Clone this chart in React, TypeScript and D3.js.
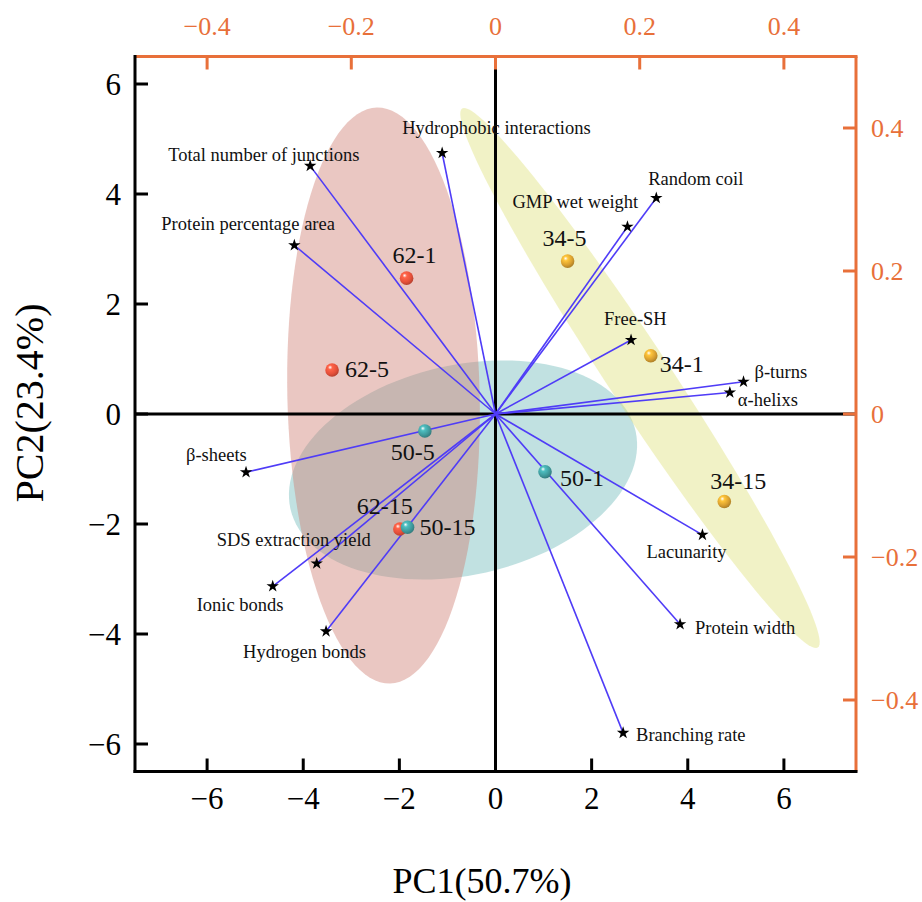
import React from "react";
import * as d3 from "d3";

// PCA biplot: scores (spheres) on bottom/left axes, loadings (stars) on top/right axes

const W = 922;
const H = 902;
const plot = { left: 135, right: 856, top: 56.5, bottom: 771.5 };

const scoreNames = ["62-1", "62-5", "62-15", "50-1", "50-5", "50-15", "34-1", "34-5", "34-15"];
const scoreGroups = ["62", "62", "62", "50", "50", "50", "34", "34", "34"];
const scorePC1 = [-1.85, -3.4, -1.99, 1.03, -1.47, -1.83, 3.23, 1.5, 4.76];
const scorePC2 = [2.47, 0.8, -2.09, -1.05, -0.31, -2.06, 1.06, 2.78, -1.59];

const loadingNames = [
  "Hydrophobic interactions",
  "Total number of junctions",
  "Protein percentage area",
  "Random coil",
  "GMP wet weight",
  "Free-SH",
  "β-turns",
  "α-helixs",
  "β-sheets",
  "Lacunarity",
  "SDS extraction yield",
  "Ionic bonds",
  "Hydrogen bonds",
  "Protein width",
  "Branching rate",
];
const loadingPC1 = [-0.074, -0.257, -0.279, 0.223, 0.183, 0.188, 0.344, 0.325, -0.346, 0.287, -0.248, -0.309, -0.235, 0.256, 0.177];
const loadingPC2 = [0.365, 0.347, 0.236, 0.302, 0.262, 0.1035, 0.045, 0.03, -0.0815, -0.169, -0.209, -0.241, -0.304, -0.294, -0.446];

// confidence ellipses: centre and two conjugate semi-axes, in PC units
const ellipseGroups = ["50", "34", "62"];
const ellipseCx = [-0.676, 3.006, -2.33];
const ellipseCy = [-1.018, 0.655, 0.336];
const ellipseA = [[3.59, 0.707], [3.7, -4.9], [0.135, -5.236]];
const ellipseB = [[0.48, -1.862], [0.539, 0.31], [2.0, 0.04]];

const xTicks = [-6, -4, -2, 0, 2, 4, 6];
const yTicks = [-6, -4, -2, 0, 2, 4, 6];
const topTicks = [-0.4, -0.2, 0, 0.2, 0.4];
const rightTicks = [-0.4, -0.2, 0, 0.2, 0.4];

const groupColor: Record<string, string> = { "62": "#e5503a", "50": "#3f9a9c", "34": "#d9a030" };
const ellipseFill: Record<string, string> = { "62": "#ce7d71", "50": "#6fb9b9", "34": "#dfe27a" };

// label placement (px offsets from the mark)
const scoreLabelOffset: Record<string, [number, number]> = {
  "62-1": [-14, -15], "62-5": [13, 7], "62-15": [-43, -15],
  "50-1": [15, 14], "50-5": [-34, 29], "50-15": [12, 8],
  "34-1": [9, 16], "34-5": [-25, -15], "34-15": [-14, -12],
};
const loadingLabelOffset: Record<string, [number, number]> = {
  "Hydrophobic interactions": [-40, -19],
  "Total number of junctions": [-142, -5],
  "Protein percentage area": [-133, -15],
  "Random coil": [-8, -13],
  "GMP wet weight": [-115, -19],
  "Free-SH": [-27, -15],
  "β-turns": [11, -4],
  "α-helixs": [8, 13],
  "β-sheets": [-60, -11],
  "Lacunarity": [-56, 23],
  "SDS extraction yield": [-100, -17],
  "Ionic bonds": [-76, 25],
  "Hydrogen bonds": [-83, 27],
  "Protein width": [15, 10],
  "Branching rate": [13, 8],
};

const ORANGE = "#e8703a";
const BLUE = "#4f3cf7";
const FONT = "'Liberation Serif', 'Times New Roman', serif";

export default function App() {
  const x = d3.scaleLinear().domain([-7.5, 7.5]).range([plot.left, plot.right]);
  const y = d3.scaleLinear().domain([-6.5, 6.5]).range([plot.bottom, plot.top]);
  const xTop = d3.scaleLinear().domain([-0.5, 0.5]).range([plot.left, plot.right]);
  const yRight = d3.scaleLinear().domain([-0.5, 0.5]).range([plot.bottom, plot.top]);
  const fmt = d3.format("~g");
  const star = d3.symbol().type(d3.symbolStar).size(48)()!;

  const ellipsePath = (i: number) => {
    const pts: [number, number][] = d3.range(120).map((k) => {
      const t = (k / 120) * Math.PI * 2;
      const px = ellipseCx[i] + Math.cos(t) * ellipseA[i][0] + Math.sin(t) * ellipseB[i][0];
      const py = ellipseCy[i] + Math.cos(t) * ellipseA[i][1] + Math.sin(t) * ellipseB[i][1];
      return [x(px), y(py)];
    });
    return d3.line().curve(d3.curveLinearClosed)(pts)!;
  };

  const tickLen = 13;

  return (
    <svg width={W} height={H} style={{ position: "absolute", left: 0, top: 0, background: "#fff" }} fontFamily={FONT}>
      <defs>
        {Object.keys(groupColor).map((g) => (
          <radialGradient key={g} id={`sph-${g}`} cx="40%" cy="35%" r="65%" fx="35%" fy="30%">
            <stop offset="0%" stopColor="#ffffff" />
            <stop offset="25%" stopColor={d3.color(groupColor[g])!.brighter(0.6).formatHex()} />
            <stop offset="70%" stopColor={groupColor[g]} />
            <stop offset="100%" stopColor={d3.color(groupColor[g])!.darker(0.6).formatHex()} />
          </radialGradient>
        ))}
        <clipPath id="plotclip">
          <rect x={plot.left} y={plot.top} width={plot.right - plot.left} height={plot.bottom - plot.top} />
        </clipPath>
      </defs>

      <g clipPath="url(#plotclip)">
        {ellipseGroups.map((g, i) => (
          <path key={g} d={ellipsePath(i)} fill={ellipseFill[g]} fillOpacity={0.43} />
        ))}
      </g>

      {/* zero lines */}
      <line x1={x(0)} x2={x(0)} y1={plot.top} y2={plot.bottom} stroke="#000" strokeWidth={3} />
      <line x1={plot.left} x2={plot.right} y1={y(0)} y2={y(0)} stroke="#000" strokeWidth={3} />

      {/* loading vectors */}
      {loadingNames.map((n, i) => (
        <line key={n} x1={xTop(0)} y1={yRight(0)} x2={xTop(loadingPC1[i])} y2={yRight(loadingPC2[i])} stroke={BLUE} strokeWidth={1.6} />
      ))}
      {loadingNames.map((n, i) => {
        const cx = xTop(loadingPC1[i]);
        const cy = yRight(loadingPC2[i]);
        const [dx, dy] = loadingLabelOffset[n];
        return (
          <g key={n}>
            <path d={star} transform={`translate(${cx},${cy})`} fill="#000" />
            <text x={cx + dx} y={cy + dy} fontSize={18.5} fill="#111">{n}</text>
          </g>
        );
      })}

      {/* scores */}
      {scoreNames.map((n, i) => {
        const cx = x(scorePC1[i]);
        const cy = y(scorePC2[i]);
        const [dx, dy] = scoreLabelOffset[n];
        return (
          <g key={n}>
            <circle cx={cx} cy={cy} r={6.8} fill={`url(#sph-${scoreGroups[i]})`} />
            <text x={cx + dx} y={cy + dy} fontSize={24} fill="#111">{n}</text>
          </g>
        );
      })}

      {/* frame: bottom/left black, top/right orange */}
      <line x1={plot.left} x2={plot.right + 1.5} y1={plot.top} y2={plot.top} stroke={ORANGE} strokeWidth={3} />
      <line x1={plot.right} x2={plot.right} y1={plot.top} y2={plot.bottom} stroke={ORANGE} strokeWidth={3} />
      <line x1={plot.left - 1.5} x2={plot.right + 1.5} y1={plot.bottom} y2={plot.bottom} stroke="#000" strokeWidth={3} />
      <line x1={plot.left} x2={plot.left} y1={plot.top - 1.5} y2={plot.bottom + 1.5} stroke="#000" strokeWidth={3} />

      {/* bottom axis */}
      {xTicks.map((t) => (
        <g key={`b${t}`}>
          <line x1={x(t)} x2={x(t)} y1={plot.bottom} y2={plot.bottom - tickLen} stroke="#000" strokeWidth={3} />
          <text x={x(t)} y={809} fontSize={31} textAnchor="middle" fill="#000">{fmt(t)}</text>
        </g>
      ))}
      {/* left axis */}
      {yTicks.map((t) => (
        <g key={`l${t}`}>
          <line x1={plot.left} x2={plot.left + tickLen} y1={y(t)} y2={y(t)} stroke="#000" strokeWidth={3} />
          <text x={plot.left - 14} y={y(t)} dy="0.34em" fontSize={31} textAnchor="end" fill="#000">{fmt(t)}</text>
        </g>
      ))}
      {/* top axis */}
      {topTicks.map((t) => (
        <g key={`t${t}`}>
          <line x1={xTop(t)} x2={xTop(t)} y1={plot.top} y2={plot.top + tickLen} stroke={ORANGE} strokeWidth={3} />
          <text x={xTop(t)} y={35} fontSize={26} textAnchor="middle" fill={ORANGE}>{fmt(t)}</text>
        </g>
      ))}
      {/* right axis */}
      {rightTicks.map((t) => (
        <g key={`r${t}`}>
          <line x1={plot.right} x2={plot.right - tickLen} y1={yRight(t)} y2={yRight(t)} stroke={ORANGE} strokeWidth={3} />
          <text x={plot.right + 15} y={yRight(t)} dy="0.34em" fontSize={26} textAnchor="start" fill={ORANGE}>{fmt(t)}</text>
        </g>
      ))}

      <text x={482} y={893} fontSize={36} textAnchor="middle" fill="#000">PC1(50.7%)</text>
      <text transform={`translate(43,403) rotate(-90)`} fontSize={40} textAnchor="middle" fill="#000">PC2(23.4%)</text>
    </svg>
  );
}
